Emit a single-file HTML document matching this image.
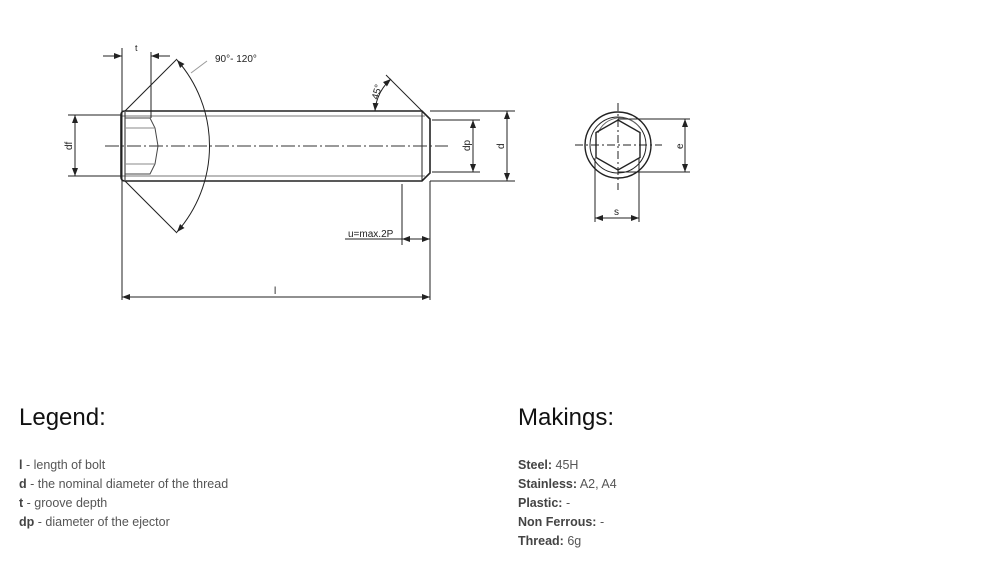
<!DOCTYPE html>
<html><head><meta charset="utf-8"><style>
body{margin:0;width:994px;height:562px;background:#fff;position:relative;font-family:"Liberation Sans",sans-serif;overflow:hidden}
svg{position:absolute;left:0;top:0}
.h{position:absolute;font-size:24px;color:#111;top:404px}
.l{position:absolute;font-size:12.5px;color:#555;line-height:19px;top:456px}
.l b{color:#444}
</style></head><body>
<svg width="994" height="562" viewBox="0 0 994 562">
<defs><marker id="a" markerWidth="8" markerHeight="6" refX="8" refY="3" orient="auto-start-reverse" markerUnits="userSpaceOnUse"><path d="M0,0 L8,3 L0,6 z" fill="#222"/></marker></defs>
<g stroke="#222" fill="none" stroke-width="1">
<path d="M125,111 L422,111 L430,119 L430,173 L422,181 L125,181 Q121,181 121,177 L121,115 Q121,111 125,111 Z" stroke-width="1.6"/>
<line x1="122" y1="116" x2="425" y2="116" stroke="#777"/>
<line x1="122" y1="176" x2="425" y2="176" stroke="#777"/>
<line x1="422" y1="111" x2="422" y2="181" stroke-width="1"/>
<line x1="125" y1="112" x2="125" y2="180"/>
<path d="M125,118 L150,118 L155,128 L158,146 L155,164 L150,174 L125,174" stroke="#444"/>
<line x1="125" y1="128" x2="155" y2="128" stroke="#888"/>
<line x1="125" y1="164" x2="155" y2="164" stroke="#888"/>
<line x1="105" y1="146" x2="448" y2="146" stroke="#333" stroke-dasharray="14,3,2,3"/>
<line x1="68" y1="115" x2="121" y2="115"/><line x1="68" y1="176" x2="121" y2="176"/>
<line x1="75" y1="115" x2="75" y2="176" marker-start="url(#a)" marker-end="url(#a)"/>
<line x1="122" y1="48" x2="122" y2="300"/>
<line x1="151" y1="52" x2="151" y2="118"/>
<line x1="103" y1="56" x2="122" y2="56" marker-end="url(#a)"/>
<line x1="170" y1="56" x2="151" y2="56" marker-end="url(#a)"/>
<line x1="125" y1="111" x2="177" y2="59"/>
<line x1="125" y1="181" x2="177" y2="233"/>
<path d="M177,60 A130,130 0 0 1 177,232" marker-start="url(#a)" marker-end="url(#a)"/>
<line x1="191" y1="73" x2="207" y2="61" stroke="#999"/>
<line x1="422" y1="111" x2="386" y2="75"/>
<path d="M375,111 A47,47 0 0 1 391,79" marker-start="url(#a)" marker-end="url(#a)"/>
<line x1="432" y1="120" x2="480" y2="120"/><line x1="432" y1="172" x2="480" y2="172"/>
<line x1="473" y1="120" x2="473" y2="172" marker-start="url(#a)" marker-end="url(#a)"/>
<line x1="430" y1="111" x2="515" y2="111"/><line x1="430" y1="181" x2="515" y2="181"/>
<line x1="507" y1="111" x2="507" y2="181" marker-start="url(#a)" marker-end="url(#a)"/>
<line x1="430" y1="181" x2="430" y2="300"/>
<line x1="402" y1="184" x2="402" y2="245"/>
<line x1="345" y1="239" x2="402" y2="239"/>
<line x1="402" y1="239" x2="430" y2="239" marker-start="url(#a)" marker-end="url(#a)"/>
<line x1="122" y1="297" x2="430" y2="297" marker-start="url(#a)" marker-end="url(#a)"/>
<circle cx="618" cy="145" r="33" stroke-width="1.4"/>
<circle cx="618" cy="145" r="28"/>
<path d="M598,133 A24,24 0 0 1 640,128" stroke="#666"/>
<polygon points="618,120 640,132.5 640,157.5 618,170 596,157.5 596,132.5" stroke-width="1.4"/>
<line x1="575" y1="145" x2="662" y2="145" stroke-dasharray="8,3,2,3"/>
<line x1="618" y1="103" x2="618" y2="190" stroke-dasharray="8,3,2,3"/>
<line x1="618" y1="119" x2="690" y2="119"/><line x1="618" y1="172" x2="690" y2="172"/>
<line x1="685" y1="119" x2="685" y2="172" marker-start="url(#a)" marker-end="url(#a)"/>
<line x1="595" y1="158" x2="595" y2="222"/><line x1="639" y1="158" x2="639" y2="222"/>
<line x1="595" y1="218" x2="639" y2="218" marker-start="url(#a)" marker-end="url(#a)"/>
</g>
<g font-family="Liberation Sans,sans-serif" font-size="10" fill="#222">
<text x="135" y="51" font-size="9">t</text>
<text x="215" y="62">90°- 120°</text>
<text x="348" y="237">u=max.2P</text>
<text x="274" y="294">l</text>
<text x="614" y="215">s</text>
<text transform="translate(72,150) rotate(-90)">df</text>
<text transform="translate(470,151) rotate(-90)">dp</text>
<text transform="translate(504,149) rotate(-90)">d</text>
<text transform="translate(683,149) rotate(-90)">e</text>
<text transform="translate(378,100) rotate(-75)">45°</text>
</g>
</svg>
<div class="h" style="left:19px">Legend:</div>
<div class="h" style="left:518px">Makings:</div>
<div class="l" style="left:19px"><b>l</b> - length of bolt<br><b>d</b> - the nominal diameter of the thread<br><b>t</b> - groove depth<br><b>dp</b> - diameter of the ejector</div>
<div class="l" style="left:518px"><b>Steel:</b> 45H<br><b>Stainless:</b> A2, A4<br><b>Plastic:</b> -<br><b>Non Ferrous:</b> -<br><b>Thread:</b> 6g</div>
</body></html>
